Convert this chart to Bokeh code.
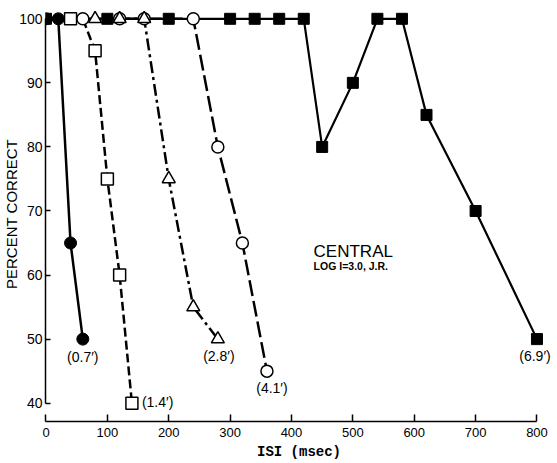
from bokeh.plotting import figure
from bokeh.models import Range1d, FixedTicker, Label
from bokeh.embed import file_html
from bokeh.resources import INLINE

# ---- data (ISI in msec, percent correct) ----
c07_x = [0, 20, 40, 60]
c07_y = [100, 100, 65, 50]

s14_x = [40, 60, 80, 100, 120, 140]
s14_y = [100, 100, 95, 75, 60, 40]

t28_x = [80, 120, 160, 200, 240, 280]
t28_y = [100, 100, 100, 75, 55, 50]

c41_x = [60, 120, 160, 240, 280, 320, 360]
c41_y = [100, 100, 100, 100, 80, 65, 45]

s69_x = [0, 100, 200, 300, 340, 380, 420, 450, 500, 540, 580, 620, 700, 800]
s69_y = [100, 100, 100, 100, 100, 100, 100, 80, 90, 100, 100, 85, 70, 50]

x_ticks = [0, 100, 200, 300, 400, 500, 600, 700, 800]
y_ticks = [40, 50, 60, 70, 80, 90, 100]

series_labels = ["(0.7\u2032)", "(1.4\u2032)", "(2.8\u2032)", "(4.1\u2032)", "(6.9\u2032)"]
title_text = "CENTRAL"
sub_text = "LOG I=3.0, J.R."
y_title = "PERCENT CORRECT"
x_title = "ISI (msec)"

FONT = "Liberation Sans"

p = figure(width=557, height=463, output_backend="svg", toolbar_location=None,
           x_range=Range1d(-0.81, 825.3), y_range=Range1d(37.14, 101.92),
           min_border_left=45, min_border_right=5, min_border_top=6, min_border_bottom=42)
p.outline_line_color = None
p.grid.visible = False
p.background_fill_color = "white"
p.border_fill_color = "white"

# x axis
xa = p.xaxis[0]
xa.bounds = (0, 800)
xa.ticker = FixedTicker(ticks=x_ticks)
xa.major_tick_in = 7
xa.major_tick_out = 0
xa.minor_tick_line_color = None
xa.axis_line_width = 1.5
xa.major_tick_line_width = 1.5
xa.axis_line_color = "black"
xa.major_tick_line_color = "black"
xa.major_label_text_font = FONT
xa.major_label_text_font_size = "13px"
xa.major_label_text_color = "black"
xa.major_label_standoff = 6
xa.axis_label = x_title
xa.axis_label_text_font = "Liberation Mono"
xa.axis_label_text_font_style = "bold"
xa.axis_label_text_font_size = "14px"
xa.axis_label_text_color = "black"
xa.axis_label_standoff = 4

# y axis
ya = p.yaxis[0]
ya.bounds = (40, 100)
ya.ticker = FixedTicker(ticks=y_ticks)
ya.major_tick_in = 5
ya.major_tick_out = 0
ya.minor_tick_line_color = None
ya.axis_line_width = 1.5
ya.major_tick_line_width = 1.5
ya.axis_line_color = "black"
ya.major_tick_line_color = "black"
ya.major_label_text_font = FONT
ya.major_label_text_font_size = "14px"
ya.major_label_text_color = "black"
ya.major_label_standoff = 3
ya.axis_label = y_title
ya.axis_label_text_font = FONT
ya.axis_label_text_font_style = "normal"
ya.axis_label_text_font_size = "15px"
ya.axis_label_text_color = "black"
ya.axis_label_standoff = -4

# lines
p.line(s69_x, s69_y, line_color="black", line_width=2.2)
p.line(c07_x, c07_y, line_color="black", line_width=2.5)
p.line(s14_x, s14_y, line_color="black", line_width=2.5, line_dash="9 4")
p.line(t28_x, t28_y, line_color="black", line_width=2.5, line_dash="12 4 3 4")
p.line(c41_x, c41_y, line_color="black", line_width=2.5, line_dash="16 5")

# markers
p.scatter(s69_x, s69_y, marker="square", size=11, fill_color="black", line_color="black", line_width=1)
p.scatter(c07_x, c07_y, marker="circle", size=12, fill_color="black", line_color="black", line_width=1)
p.scatter(c41_x, c41_y, marker="circle", size=12, fill_color="white", line_color="black", line_width=1.5)
p.scatter(s14_x[:1] + s14_x[2:], s14_y[:1] + s14_y[2:], marker="square", size=12,
          fill_color="white", line_color="black", line_width=1.5)
p.scatter(t28_x, t28_y, marker="triangle", size=13, fill_color="white", line_color="black", line_width=1.5)

# series labels anchored to the last point of each series
anchors = [(c07_x[-1], c07_y[-1], 0, -18, "center"),
           (s14_x[-1], s14_y[-1], 10, 1, "left"),
           (t28_x[-1], t28_y[-1], 1, -17, "center"),
           (c41_x[-1], c41_y[-1], 5, -17, "center"),
           (s69_x[-1], s69_y[-1], -2, -17, "center")]
for txt, (ax, ay, dx, dy, al) in zip(series_labels, anchors):
    p.add_layout(Label(x=ax, y=ay, x_offset=dx, y_offset=dy, text=txt,
                       text_font=FONT, text_font_size="14px", text_color="black",
                       text_align=al, text_baseline="middle"))

p.add_layout(Label(x=436, y=63.7, text=title_text, text_font=FONT, text_font_size="17px",
                   text_color="black", text_align="left", text_baseline="alphabetic"))
p.add_layout(Label(x=436, y=61.34, text=sub_text, text_font=FONT, text_font_size="10.5px",
                   text_font_style="bold", text_color="black", text_align="left",
                   text_baseline="alphabetic"))

open("out.html", "w").write(file_html(p, INLINE))
